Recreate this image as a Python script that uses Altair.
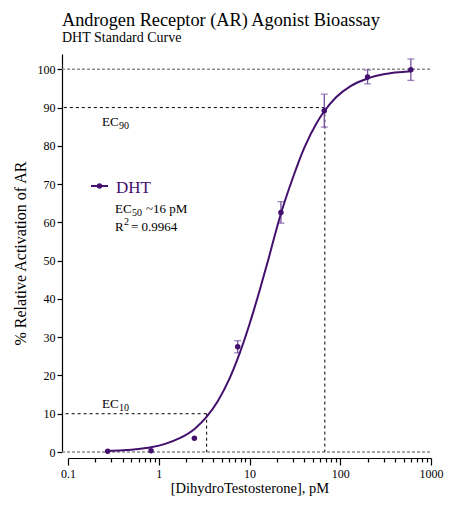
import altair as alt
import pandas as pd

FONT = "Liberation Serif"
PURPLE = "#43106e"
ERR_PURPLE = "#7550a0"

# measured data (3-fold dilution series of DHT, pM)
conc = [0.274, 0.823, 2.47, 7.41, 22.2, 66.7, 200, 600]
activation = [0.2, 0.3, 3.6, 27.5, 62.6, 89.2, 98.0, 99.9]
err = [0, 0, 0, 1.6, 2.8, 4.3, 1.8, 2.8]

# fitted curve
curve_x = [0.274, 0.4, 0.6, 0.82, 1.2, 1.7, 2.5, 3.4, 4.5, 6, 7.4, 10, 13, 16,
           22, 30, 40, 55, 67, 90, 130, 200, 300, 600]
curve_y = [0.25, 0.45, 0.8, 1.25, 2.2, 3.6, 6.1, 9.3, 13.4, 19.1, 24.4, 33.4,
           42.4, 50.0, 62.0, 71.6, 79.4, 86.0, 89.1, 92.7, 95.6, 97.6, 98.7, 99.5]

ec10 = 3.37
ec90 = 67.6

y_ticks = [0, 10, 20, 30, 40, 50, 60, 70, 80, 90, 100]
decades = [0.1, 1, 10, 100]
x_ticks = [round(d * k, 4) for d in decades for k in range(1, 10)] + [1000]

W, H = 363, 398

pts = pd.DataFrame({"x": conc, "y": activation, "e": err})
pts["lo"] = pts["y"] - pts["e"]
pts["hi"] = pts["y"] + pts["e"]
curve = pd.DataFrame({"x": curve_x, "y": curve_y})

xs = alt.Scale(type="log", domain=[0.1, 1000], nice=False)
ys = alt.Scale(domain=[0, 104], nice=False, zero=False)

IS_DECADE = "abs(log(datum.value)/LN10 - round(log(datum.value)/LN10)) < 1e-6"

x_axis = alt.Axis(
    values=x_ticks, format="~g",
    labelExpr=IS_DECADE + " ? datum.label : ''",
    tickSize={"condition": {"test": IS_DECADE, "value": 7}, "value": 4},
    offset=6, grid=False, labelFlush=False, labelPadding=3, titlePadding=2,
    title="[DihydroTestosterone], pM", labelOverlap=False, titleFontSize=14.5,
)
y_axis = alt.Axis(
    values=y_ticks, offset=6, grid=False, tickSize=5, labelOverlap=False,
    title="% Relative Activation of AR", titleFontSize=16, titlePadding=9,
    labelPadding=2,
)


def X(field="x"):
    return alt.X(f"{field}:Q", scale=xs, axis=x_axis)


def Y(field="y"):
    return alt.Y(f"{field}:Q", scale=ys, axis=y_axis)


gray_lines = alt.Chart(pd.DataFrame({"y": [100, 0]})).mark_rule(
    color="#8c8c8c", strokeDash=[3, 2], strokeWidth=1.5
).encode(y=Y(), x=alt.value(-6), x2=alt.value(W))

ec_df = pd.DataFrame({"x": [ec10, ec90], "y": [10, 90]})
ec_h = alt.Chart(ec_df).mark_rule(color="black", strokeDash=[3, 3], strokeWidth=1).encode(
    x=X(), x2=alt.value(-6), y=Y())
ec_v = alt.Chart(ec_df).mark_rule(color="black", strokeDash=[3, 3], strokeWidth=1).encode(
    x=X(), y=Y(), y2=alt.Y2(datum=0))

err_base = alt.Chart(pts).transform_filter("datum.e > 0")
err_rule = err_base.mark_rule(color=ERR_PURPLE, strokeWidth=1.3).encode(
    x=X(), y=Y("lo"), y2="hi:Q")
cap_lo = err_base.mark_tick(color=ERR_PURPLE, orient="horizontal", size=7, thickness=1.3).encode(
    x=X(), y=Y("lo"))
cap_hi = err_base.mark_tick(color=ERR_PURPLE, orient="horizontal", size=7, thickness=1.3).encode(
    x=X(), y=Y("hi"))

line = alt.Chart(curve).mark_line(color=PURPLE, strokeWidth=2, interpolate="monotone").encode(
    x=X(), y=Y())
points = alt.Chart(pts).mark_circle(color=PURPLE, size=30, opacity=1).encode(x=X(), y=Y())


def label(text, x, y, size, color="black"):
    return alt.Chart(alt.Data(values=[{}])).mark_text(
        text=text, align="left", baseline="alphabetic", font=FONT,
        fontSize=size, color=color,
    ).encode(x=alt.value(x), y=alt.value(y))


one = alt.Data(values=[{}])
leg_line = alt.Chart(one).mark_rule(color=PURPLE, strokeWidth=2).encode(
    x=alt.value(23), x2=alt.value(40), y=alt.value(132))
leg_dot = alt.Chart(one).mark_circle(color=PURPLE, size=30, opacity=1).encode(
    x=alt.value(31.5), y=alt.value(132))

annots = [
    label("EC", 34, 72, 13), label("90", 51, 75, 10),
    label("EC", 34, 354, 13), label("10", 51, 357, 10),
    label("DHT", 48, 139, 17, PURPLE),
    label("EC", 47, 159, 13), label("50", 64, 162, 10), label("~16 pM", 78, 159, 13),
    label("R", 47, 177, 13), label("2", 56, 171, 10), label("= 0.9964", 63, 177, 13),
]

chart = alt.layer(
    gray_lines, ec_h, ec_v, err_rule, cap_lo, cap_hi, line, points,
    leg_line, leg_dot, *annots
).properties(
    width=W, height=H,
    autosize=alt.AutoSizeParams(type="none"),
    padding={"left": 60, "top": 46, "right": 31, "bottom": 52},
    title=alt.TitleParams(
        text="Androgen Receptor (AR) Agonist Bioassay", subtitle="DHT Standard Curve",
        anchor="start", frame="group", font=FONT, fontSize=18.3, fontWeight="normal",
        color="black", subtitleFont=FONT, subtitleFontSize=14, subtitleColor="black",
        subtitlePadding=1, offset=8, dx=-6,
    ),
).configure_view(stroke=None).configure_axis(
    labelFont=FONT, titleFont=FONT, labelFontSize=12, labelColor="black",
    titleColor="black", titleFontWeight="normal", domainColor="black",
    tickColor="black", domainWidth=1.2, tickWidth=1.2,
).configure_title(font=FONT, subtitleFont=FONT)

chart.save("out.html", embed_options={"renderer": "svg", "actions": False})
